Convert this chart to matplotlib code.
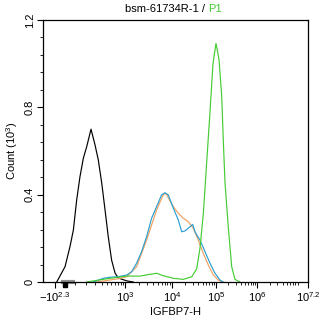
import numpy as np
import matplotlib
matplotlib.use("Agg")
import matplotlib.pyplot as plt
from matplotlib.ticker import FixedLocator

plt.rcParams['font.family'] = ['Liberation Sans', 'DejaVu Sans']
plt.rcParams['mathtext.fontset'] = 'custom'
plt.rcParams['mathtext.rm'] = 'Liberation Sans'
plt.rcParams['mathtext.it'] = 'Liberation Sans:italic'

# black (control) histogram
black_x = [-178, -89, -44, -15, 13, 41, 71, 103, 148, 196, 241, 295, 355, 423, 505, 603, 714, 1100, 1500]
black_y = [0.0, 0.07, 0.162, 0.238, 0.376, 0.482, 0.567, 0.62, 0.70, 0.628, 0.559, 0.453, 0.33, 0.207, 0.10, 0.041, 0.018, 0.005, 0.0]

# blue histogram
blue_x = [175, 323, 464, 714, 1087, 1388, 1771, 2264, 2891, 3690, 4710, 6012, 7066, 8336,
          10710, 13900, 16600, 19720, 25640, 29510, 33330, 43250, 56230, 73070, 94900, 125200, 150600]
blue_y = [0.0, 0.017, 0.022, 0.024, 0.032, 0.047, 0.086, 0.139, 0.208, 0.292, 0.345, 0.399, 0.409, 0.399,
          0.338, 0.284, 0.23, 0.234, 0.253, 0.264, 0.23, 0.192, 0.139, 0.086, 0.04, 0.009, 0.0]

# orange histogram
orange_x = [219, 714, 1087, 1771, 2891, 4710, 6500, 7413, 10710, 13900, 18070, 23440,
            30480, 39630, 51400, 66830, 86900, 113800, 140000]
orange_y = [0.0, 0.015, 0.024, 0.07, 0.192, 0.33, 0.399, 0.406, 0.345, 0.315, 0.292, 0.276,
            0.246, 0.192, 0.131, 0.078, 0.032, 0.009, 0.0]

# green (P1) histogram
green_x = [103, 464, 1087, 2080, 3396, 4710, 6500, 10710, 18070, 28050, 36390, 43250, 51400,
           61520, 73070, 85480, 100000, 118300, 137800, 150600, 165900, 199500, 241500, 290400, 384600]
green_y = [0.0, 0.017, 0.027, 0.027, 0.035, 0.04, 0.029, 0.017, 0.012, 0.024, 0.06, 0.155, 0.31,
           0.55, 0.78, 1.0, 1.093, 1.02, 0.85, 0.65, 0.453, 0.25, 0.07, 0.012, 0.0]

tick_vals = [-10**2.3, 1e3, 1e4, 1e5, 1e6, 10**7.2]
tick_labels = [r'$-10^{2.3}$', r'$10^{3}$', r'$10^{4}$', r'$10^{5}$', r'$10^{6}$', r'$10^{7.2}$']

# biexponential-like axis
W = 170.0
anchor_x = np.array([-400, -10**2.3, 1e3, 1e4, 1e5, 1e6, 10**7.2])
anchor_p = np.array([43, 55, 125, 172, 216, 257, 308], dtype=float)


def g(x):
    return np.arcsinh(np.asarray(x, dtype=float) / W) / np.log(10)


anchor_g = g(anchor_x)


def forward(x):
    return np.interp(g(x), anchor_g, anchor_p)


def inverse(p):
    gg = np.interp(p, anchor_p, anchor_g)
    return W * np.sinh(gg * np.log(10))


fig = plt.figure(figsize=(3.22, 3.25), dpi=100)
ax = fig.add_axes([43/322, 1 - 282/325, 265/322, 262/325])
ax.set_xscale('function', functions=(forward, inverse))

kw = dict(lw=0.85, solid_joinstyle='round')
ax.plot(black_x, black_y, color='black', **kw)
ax.plot(orange_x, orange_y, color='#f0a060', **kw)
ax.plot(blue_x, blue_y, color='#2aa0d0', **kw)
ax.plot(green_x, green_y, color='#44cc33', **kw)

ax.set_xlim(-400, 10**7.2)
ax.set_ylim(0, 1.2)

minors = [m * 10**k for k in range(2, 7) for m in range(2, 10) if 10**2.3 < m * 10**k < 10**7.2]
minors += [-100, 0, 100]
ax.xaxis.set_major_locator(FixedLocator(tick_vals))
ax.xaxis.set_minor_locator(FixedLocator(minors))
ax.set_xticklabels(tick_labels)

ax.set_yticks([0, 0.4, 0.8, 1.2])
ax.set_yticklabels(['0', '0.4', '0.8', '1.2'], rotation=90, va='center')
ax.yaxis.set_minor_locator(FixedLocator(np.arange(0, 1.21, 0.08)))

ax.tick_params(which='major', length=4, width=0.8, labelsize=8, pad=2, color='black')
ax.tick_params(which='minor', length=2, width=0.6)

# zero-region marker on the axis
ax.plot([-130, -5], [0, 0], color='#909090', lw=3, solid_capstyle='butt',
        clip_on=False, transform=ax.get_xaxis_transform(), zorder=0)
ax.plot([-89], [-0.012], marker='s', color='black', ms=2.5, clip_on=False,
        transform=ax.get_xaxis_transform())

ax.set_xlabel('IGFBP7-H', fontsize=8, labelpad=2)
ax.set_ylabel(r'Count (10$^{3}$)', fontsize=8, labelpad=3)

fig.text(208/322, 0.958, 'bsm-61734R-1 / ', ha='right', va='bottom', fontsize=8, color='black')
fig.text(208/322, 0.958, 'P1', ha='left', va='bottom', fontsize=8, color='#44cc33')

for s in ax.spines.values():
    s.set_linewidth(0.9)

fig.savefig('out.png', dpi=100)
